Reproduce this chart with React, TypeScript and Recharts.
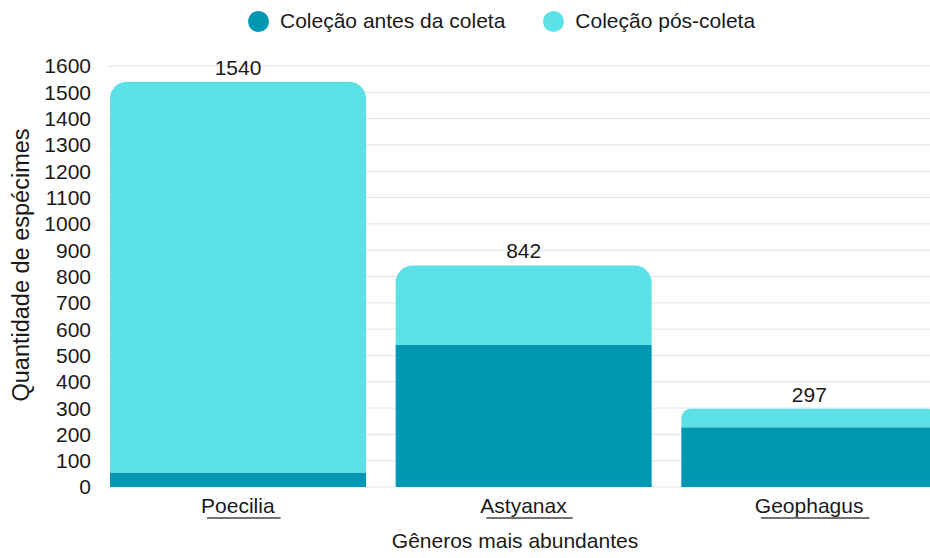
import { BarChart, Bar, XAxis, YAxis, CartesianGrid, LabelList, Label } from "recharts";

const GENERA = ["Poecilia", "Astyanax", "Geophagus"];
const BEFORE = [55, 540, 227];
const AFTER = [1485, 302, 70];
const Y_TICKS = [0, 100, 200, 300, 400, 500, 600, 700, 800, 900, 1000, 1100, 1200, 1300, 1400, 1500, 1600];

const SERIES = [
  { key: "antes", name: "Coleção antes da coleta", color: "#0097b2" },
  { key: "pos", name: "Coleção pós-coleta", color: "#5ce1e6" },
];

const data = GENERA.map((g, i) => ({
  genus: g,
  antes: BEFORE[i],
  pos: AFTER[i],
  total: BEFORE[i] + AFTER[i],
}));

const FONT = "'Liberation Sans', Arial, sans-serif";
const TEXT = "#1a1a1a";

let ctx: CanvasRenderingContext2D | null = null;
function textWidth(s: string, size: number) {
  if (!ctx) ctx = document.createElement("canvas").getContext("2d");
  if (!ctx) return s.length * size * 0.5;
  ctx.font = `${size}px ${FONT}`;
  return ctx.measureText(s).width;
}

// tick label with the spell-check style underline seen in the original
function GenusTick({ x, y, payload }: any) {
  const label = String(payload.value);
  const w = textWidth(label, 21);
  const start = x - w / 2;
  return (
    <g>
      <text x={x} y={y + 26} textAnchor="middle" fontSize={21} fill={TEXT} fontFamily={FONT}>
        {label}
      </text>
      <line x1={start + 6} x2={start + w + 6} y1={y + 31} y2={y + 31} stroke="#444" strokeWidth={1.5} />
    </g>
  );
}

function LegendRow() {
  return (
    <div
      style={{
        position: "absolute",
        left: 248,
        top: 9,
        display: "flex",
        alignItems: "center",
        fontFamily: FONT,
        fontSize: 21,
        color: TEXT,
        lineHeight: "24px",
        zIndex: 2,
      }}
    >
      {SERIES.map((s, i) => (
        <div key={s.key} style={{ display: "flex", alignItems: "center", marginRight: i === 0 ? 38 : 0 }}>
          <span
            style={{
              width: 21,
              height: 21,
              borderRadius: "50%",
              background: s.color,
              display: "inline-block",
              marginRight: 11,
            }}
          />
          <span>{s.name}</span>
        </div>
      ))}
    </div>
  );
}

export default function App() {
  return (
    <div
      style={{
        position: "fixed",
        left: 0,
        top: 0,
        width: 930,
        height: 558,
        overflow: "hidden",
        background: "#fff",
        fontFamily: FONT,
      }}
    >
      <LegendRow />
      <BarChart
        width={952}
        height={558}
        data={data}
        margin={{ top: 66, right: 0, bottom: 0, left: 0 }}
        barCategoryGap={15}
      >
        <CartesianGrid vertical={false} stroke="#e3e3e3" />
        <XAxis
          dataKey="genus"
          height={71}
          axisLine={false}
          tickLine={false}
          tickSize={0}
          tickMargin={0}
          interval={0}
          padding={{ left: -13, right: 0 }}
          tick={<GenusTick />}
        >
          <Label
            content={() => (
              <text x={515} y={548} textAnchor="middle" fontSize={21} fill={TEXT} fontFamily={FONT}>
                Gêneros mais abundantes
              </text>
            )}
          />
        </XAxis>
        <YAxis
          width={108}
          domain={[0, 1600]}
          ticks={Y_TICKS}
          interval={0}
          axisLine={false}
          tickLine={false}
          tickSize={0}
          tickMargin={17}
          tick={{ fontSize: 21, fill: TEXT, fontFamily: FONT }}
        >
          <Label
            content={() => (
              <text
                x={21}
                y={265}
                transform="rotate(-90 21 265)"
                textAnchor="middle"
                dominantBaseline="central"
                fontSize={23.5}
                fill={TEXT}
                fontFamily={FONT}
              >
                Quantidade de espécimes
              </text>
            )}
          />
        </YAxis>
        <Bar dataKey="antes" stackId="a" fill={SERIES[0].color} isAnimationActive={false} />
        <Bar dataKey="pos" stackId="a" fill={SERIES[1].color} radius={[17, 17, 0, 0]} isAnimationActive={false}>
          <LabelList
            dataKey="total"
            content={(p: any) => (
              <text
                x={Number(p.x) + Number(p.width) / 2}
                y={Number(p.y) - 7}
                textAnchor="middle"
                fontSize={21}
                fill={TEXT}
                fontFamily={FONT}
              >
                {p.value}
              </text>
            )}
          />
        </Bar>
      </BarChart>
    </div>
  );
}
